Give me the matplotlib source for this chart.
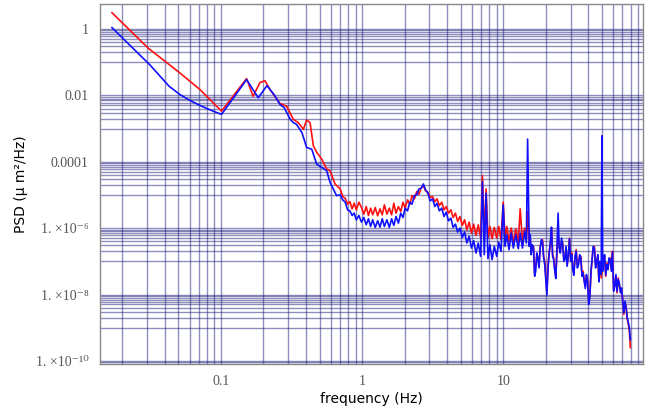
import numpy as np
import matplotlib
matplotlib.use("Agg")
import matplotlib.pyplot as plt

# values, stored as log10(PSD)
# smooth low-frequency part (separate sampling for the two traces)
freq_low_red = [0.0169, 0.0305, 0.0512, 0.071, 0.101, 0.152, 0.169, 0.189, 0.205, 0.223,
                0.262, 0.292, 0.326, 0.353, 0.384, 0.405, 0.428, 0.452, 0.477, 0.518,
                0.562, 0.593, 0.644]
logpsd_low_red = [0.488, -0.578, -1.326, -1.826, -2.476, -1.497, -2.027, -1.617, -1.56, -1.83,
                  -2.246, -2.326, -2.725, -2.823, -3.024, -2.746, -2.823, -3.524, -3.713, -3.922,
                  -4.222, -4.272, -4.671]

freq_low_blue = [0.0169, 0.0313, 0.043, 0.0512, 0.06, 0.071, 0.085, 0.101, 0.152, 0.184,
                 0.212, 0.240, 0.262, 0.281, 0.31, 0.326, 0.343, 0.375, 0.405, 0.44,
                 0.477, 0.518, 0.562, 0.593, 0.66]
logpsd_low_blue = [0.039, -1.078, -1.73, -1.976, -2.15, -2.305, -2.45, -2.575, -1.527, -2.075,
                   -1.707, -2.0, -2.275, -2.374, -2.725, -2.823, -2.874, -3.123, -3.572, -3.623,
                   -4.072, -4.171, -4.272, -4.62, -5.021]

# noisy part, common frequency bins
freq_hi = [0.70, 0.73, 0.76, 0.79, 0.82, 0.85, 0.88, 0.91, 0.95, 0.99,
           1.03, 1.07, 1.11, 1.15, 1.19, 1.24, 1.29, 1.34, 1.39, 1.44,
           1.50, 1.56, 1.62, 1.68, 1.74, 1.81, 1.88, 1.95, 2.02, 2.10,
           2.18, 2.26, 2.35, 2.44, 2.53, 2.63, 2.72, 2.82, 2.93, 3.04,
           3.16, 3.28, 3.40, 3.53, 3.67, 3.81, 3.95, 4.10, 4.26, 4.42,
           4.59, 4.76, 4.94, 5.13, 5.33, 5.53, 5.74, 5.96, 6.18, 6.42,
           6.66, 6.92, 7.13, 7.35, 7.57, 7.80, 8.05, 8.35, 8.65, 9.00,
           9.30, 9.65, 10.0, 10.3, 10.6, 11.0, 11.4, 11.8, 12.3, 12.8,
           13.2, 13.7, 14.2, 14.6, 14.9,
           15.3, 15.55, 15.8, 16.1, 16.4, 16.7, 17.0, 17.3, 17.6, 17.95,
           18.3, 18.65, 19.0, 19.35, 19.7, 20.05, 20.4, 20.8, 21.2, 21.6,
           22.0, 22.4, 22.8, 23.2, 23.6, 24.05, 24.5, 24.95, 25.4, 25.9,
           26.4, 26.9, 27.4, 27.9, 28.4, 28.95, 29.5, 30.05, 30.6, 31.15,
           31.7, 32.3, 32.9, 33.55, 34.2, 34.85, 35.5, 36.15, 36.8, 37.5,
           38.2, 38.9, 39.6, 40.35, 41.1, 41.9, 42.7, 43.5, 44.3, 45.15,
           46.0, 46.85, 47.7, 48.3, 48.9, 49.5, 50.1, 50.7, 51.3, 52.3,
           53.3, 54.3, 55.3, 56.35, 57.4, 58.45, 59.5, 60.65, 61.8, 62.95,
           64.1, 65.3, 66.5, 67.75, 69.0, 70.3, 71.6, 72.95, 74.3, 75.7,
           77.1, 78.35, 79.6]
logpsd_hi_red = [-4.82, -5.05, -5.10, -5.28, -5.20, -5.42, -5.25, -5.45, -5.22, -5.38,
                 -5.58, -5.35, -5.62, -5.40, -5.60, -5.38, -5.63, -5.42, -5.60, -5.30,
                 -5.58, -5.40, -5.60, -5.25, -5.55, -5.35, -5.50, -5.22, -5.40, -5.15,
                 -5.28, -5.02, -5.12, -4.90, -4.98, -4.78, -4.72, -4.88, -4.92, -5.08,
                 -5.05, -5.20, -5.12, -5.32, -5.22, -5.45, -5.35, -5.55, -5.45, -5.68,
                 -5.55, -5.80, -5.65, -5.92, -5.75, -6.05, -5.82, -6.15, -5.88, -6.22,
                 -5.90, -6.28, -4.42, -6.20, -4.82, -6.30, -5.95, -6.32, -5.98, -6.30,
                 -5.95, -6.35, -5.22, -6.30, -5.95, -6.40, -6.00, -6.45, -6.02, -6.42,
                 -5.42, -6.40, -6.00, -6.35, -5.50,
                 -6.45, -6.30, -6.70, -6.55, -6.55, -7.35, -7.15, -6.85, -6.85, -7.10,
                 -6.55, -6.45, -6.35, -6.85, -7.00, -7.45, -7.95, -7.10, -6.70, -6.50,
                 -6.00, -6.80, -6.90, -7.20, -7.45, -6.70, -6.20, -6.55, -6.70, -6.40,
                 -6.45, -6.90, -6.90, -6.65, -7.10, -6.85, -6.30, -6.90, -6.75, -7.20,
                 -7.35, -6.90, -6.65, -7.10, -7.05, -6.85, -6.85, -7.35, -7.30, -7.55,
                 -7.75, -7.45, -7.55, -8.20, -8.05, -7.35, -6.90, -6.60, -6.55, -7.10,
                 -7.00, -6.85, -7.60, -7.05, -7.05, -7.50, -7.35, -7.20, -6.95, -6.85,
                 -7.45, -7.05, -7.20, -6.95, -6.90, -7.25, -6.70, -7.85, -7.70, -7.45,
                 -7.95, -7.50, -7.70, -7.90, -7.85, -8.15, -8.60, -8.25, -8.35, -8.75,
                 -8.90, -9.10, -9.60]
logpsd_hi_blue = [-5.00, -5.15, -5.22, -5.45, -5.48, -5.62, -5.55, -5.75, -5.62, -5.82,
                  -5.68, -5.90, -5.72, -5.95, -5.75, -5.98, -5.78, -5.97, -5.72, -5.95,
                  -5.75, -5.98, -5.72, -5.92, -5.65, -5.85, -5.55, -5.68, -5.40, -5.48,
                  -5.22, -5.28, -5.02, -5.00, -4.82, -4.80, -4.67, -4.85, -4.95, -5.18,
                  -5.12, -5.35, -5.25, -5.48, -5.40, -5.65, -5.52, -5.78, -5.70, -5.98,
                  -5.88, -6.12, -6.00, -6.28, -6.12, -6.45, -6.25, -6.60, -6.38, -6.75,
                  -6.45, -6.85, -4.60, -6.80, -4.95, -6.92, -6.50, -6.95, -6.55, -6.85,
                  -6.42, -6.70, -5.30, -6.55, -6.20, -6.65, -6.15, -6.60, -6.20, -6.62,
                  -6.15, -6.60, -6.10, -6.45, -3.32,
                  -6.55, -6.20, -6.80, -6.50, -6.60, -7.45, -7.30, -6.75, -6.90, -7.20,
                  -6.60, -6.35, -6.42, -6.90, -7.10, -7.55, -8.02, -7.20, -6.75, -6.40,
                  -5.97, -6.85, -6.95, -7.30, -7.52, -6.60, -5.55, -6.60, -6.75, -6.30,
                  -6.50, -7.00, -6.95, -6.55, -7.15, -6.80, -6.32, -7.00, -6.80, -7.25,
                  -7.42, -6.85, -6.70, -7.20, -7.10, -6.80, -6.90, -7.45, -7.35, -7.60,
                  -7.82, -7.40, -7.60, -8.30, -8.10, -7.30, -6.92, -6.55, -6.62, -7.20,
                  -7.02, -6.80, -7.62, -7.00, -7.12, -7.40, -3.22, -7.30, -7.05, -6.80,
                  -7.42, -7.10, -7.25, -6.90, -6.95, -7.30, -6.72, -7.90, -7.75, -7.40,
                  -7.90, -7.55, -7.65, -7.95, -7.80, -8.20, -8.55, -8.20, -8.40, -8.70,
                  -8.85, -9.00, -9.36]

y_ticks = [1, 1e-2, 1e-4, 1e-6, 1e-8, 1e-10]
y_tick_labels = ["1", "0.01", "0.0001", "1. \u00d710\u207b\u2076", "1. \u00d710\u207b\u2078",
                 "1. \u00d710\u207b\u00b9\u2070"]
x_ticks = [0.1, 1, 10]
x_tick_labels = ["0.1", "1", "10"]

freq_red = np.array(freq_low_red + freq_hi)
psd_red = 10.0 ** np.array(logpsd_low_red + logpsd_hi_red)
freq_blue = np.array(freq_low_blue + freq_hi)
psd_blue = 10.0 ** np.array(logpsd_low_blue + logpsd_hi_blue)

fig = plt.figure(figsize=(6.45, 4.08), dpi=100)
ax = fig.add_axes([0.155, 0.108, 0.842, 0.882])
ax.set_xscale("log")
ax.set_yscale("log")
ax.set_xlim(0.0139, 98)
ax.set_ylim(8.1e-11, 5.6)

# grid: every 1..9 x decade along x, 0.1..1 x every other decade along y
grid_kw = dict(color=(0.12, 0.12, 0.5), alpha=0.5, lw=1.0, zorder=1)
for dec in [0.01, 0.1, 1, 10]:
    for k in range(1, 10):
        ax.axvline(k * dec, **grid_kw)
for dec in [1, 1e-2, 1e-4, 1e-6, 1e-8, 1e-10]:
    for k in range(1, 11):
        ax.axhline(dec * k / 10, **grid_kw)

ax.plot(freq_red, psd_red, color="#ff1010", lw=1.2, zorder=3)
ax.plot(freq_blue, psd_blue, color="#1010ff", lw=1.2, zorder=4)

ax.set_yticks(y_ticks)
ax.set_yticklabels(y_tick_labels)
ax.set_xticks(x_ticks)
ax.set_xticklabels(x_tick_labels)
ax.minorticks_off()
ax.tick_params(length=0, pad=8, labelsize=10, labelcolor="#555555")
for lab in ax.get_xticklabels() + ax.get_yticklabels():
    lab.set_family(["Liberation Serif", "DejaVu Serif"])
for sp in ax.spines.values():
    sp.set_color("#888888")
    sp.set_linewidth(1.0)

ax.set_xlabel("frequency (Hz)", fontsize=10, labelpad=3)
ax.set_ylabel("PSD (\u03bc m\u00b2/Hz)", fontsize=10, labelpad=6)

fig.savefig("out.png", dpi=100)
